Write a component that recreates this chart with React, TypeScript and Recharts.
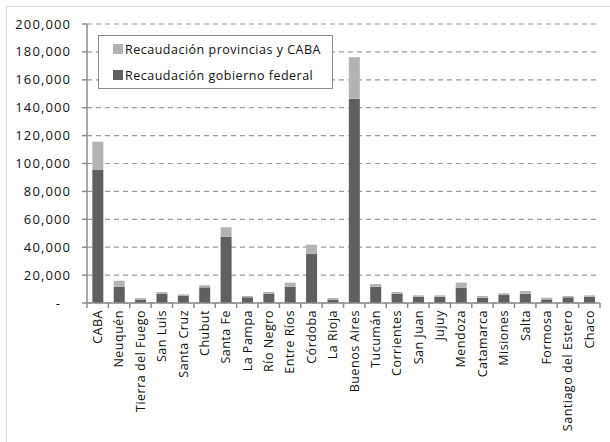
import React from 'react';
import { BarChart, Bar, XAxis, YAxis, CartesianGrid, Legend } from 'recharts';

const categories = ['CABA', 'Neuquén', 'Tierra del Fuego', 'San Luis', 'Santa Cruz', 'Chubut', 'Santa Fe', 'La Pampa', 'Río Negro', 'Entre Ríos', 'Córdoba', 'La Rioja', 'Buenos Aires', 'Tucumán', 'Corrientes', 'San Juan', 'Jujuy', 'Mendoza', 'Catamarca', 'Misiones', 'Salta', 'Formosa', 'Santiago del Estero', 'Chaco'];
const federal = [95300, 11700, 2200, 6700, 5200, 11200, 47500, 4100, 6700, 11700, 35100, 2400, 146500, 11700, 6700, 4500, 4500, 11000, 3800, 6000, 6700, 2600, 4100, 4500];
const provincial = [20300, 4300, 1400, 1200, 1000, 1500, 6800, 900, 1200, 2900, 6700, 1200, 29700, 1900, 1200, 1000, 1000, 3600, 1200, 1000, 1900, 1200, 900, 1000];
const yTicks = [0, 20000, 40000, 60000, 80000, 100000, 120000, 140000, 160000, 180000, 200000];

const data = categories.map((name, i) => ({ name, federal: federal[i], provincial: provincial[i] }));

const FONT = '"Open Sans", sans-serif';
const DARK = '#5f5f5f';
const LIGHT = '#b3b3b3';
const AXIS = '#8c8c8c';
const TEXT = '#111';
const CHART_W = 610;
const MARGIN_L = 7;
const MARGIN_R = 10;
const Y_W = 80;
const BAND = (CHART_W - MARGIN_L - MARGIN_R - Y_W) / categories.length;

const YTick = (props: any) => {
  const { x, y, payload } = props;
  const v = payload.value;
  const label = v === 0 ? '-' : v.toLocaleString('en-US');
  return (
    <text x={v === 0 ? x - 9 : x + 1} y={y} dy="0.35em" textAnchor="end" fontFamily={FONT} fontSize={13} letterSpacing={1.1} fill={TEXT}>
      {label}
    </text>
  );
};

const XTick = (props: any) => {
  const { x, y, payload, index } = props;
  const last = index === categories.length - 1;
  return (
    <g>
      <line x1={x - BAND / 2} x2={x - BAND / 2} y1={y} y2={y + 5} stroke={AXIS} strokeWidth={1.5} />
      {last && <line x1={x + BAND / 2} x2={x + BAND / 2} y1={y} y2={y + 5} stroke={AXIS} strokeWidth={1.5} />}
      <text
        x={x}
        y={y + 7}
        dy="0.35em"
        textAnchor="end"
        transform={`rotate(-90, ${x}, ${y + 7})`}
        fontFamily={FONT}
        fontSize={12.5}
        letterSpacing={0.5}
        fill={TEXT}
      >
        {payload.value}
      </text>
    </g>
  );
};

const LegendBox = (props: any) => {
  const items = [...(props.payload || [])].reverse();
  return (
    <div
      style={{
        border: '1px solid #8c8c8c',
        background: '#fff',
        width: 233,
        height: 52,
        boxSizing: 'content-box',
        fontFamily: FONT,
        fontSize: 12.5,
        letterSpacing: 0.5,
        color: TEXT,
      }}
    >
      {items.map((it: any) => (
        <div key={it.value} style={{ height: 26, display: 'flex', alignItems: 'center', paddingLeft: 14 }}>
          <span style={{ width: 10, height: 10, background: it.color, display: 'inline-block', marginRight: 2 }} />
          <span style={{ whiteSpace: 'nowrap' }}>{it.value}</span>
        </div>
      ))}
    </div>
  );
};

export default function App() {
  return (
    <div style={{ position: 'absolute', left: 0, top: 0, width: 610, height: 442, overflow: 'hidden', background: '#fff' }}>
      <div style={{ position: 'absolute', left: 6, top: 6, width: 640, height: 480, border: '1px solid #d9d9d9' }} />
      <div style={{ position: 'absolute', left: 0, top: 0 }}>
        <BarChart
          width={CHART_W}
          height={442}
          data={data}
          margin={{ top: 24, right: MARGIN_R, left: MARGIN_L, bottom: 0 }}
          barCategoryGap="25%"
        >
          <CartesianGrid vertical={false} stroke="#9a9a9a" strokeDasharray="5 4" strokeWidth={1.2} />
          <XAxis
            dataKey="name"
            interval={0}
            height={139}
            tickLine={false}
            tickSize={0}
            tickMargin={0}
            tick={<XTick />}
            axisLine={{ stroke: AXIS, strokeWidth: 1.5 }}
          />
          <YAxis
            width={Y_W}
            domain={[0, 200000]}
            ticks={yTicks}
            interval={0}
            tickSize={5}
            tickMargin={12}
            tick={<YTick />}
            tickLine={{ stroke: AXIS, strokeWidth: 1.5 }}
            axisLine={{ stroke: AXIS, strokeWidth: 1.5 }}
          />
          <Legend
            layout="vertical"
            align="center"
            verticalAlign="middle"
            content={<LegendBox />}
            wrapperStyle={{ left: 98, top: 35, width: 235, height: 54 }}
          />
          <Bar dataKey="federal" name="Recaudación gobierno federal" stackId="a" fill={DARK} isAnimationActive={false} />
          <Bar dataKey="provincial" name="Recaudación provincias y CABA" stackId="a" fill={LIGHT} isAnimationActive={false} />
        </BarChart>
      </div>
    </div>
  );
}
